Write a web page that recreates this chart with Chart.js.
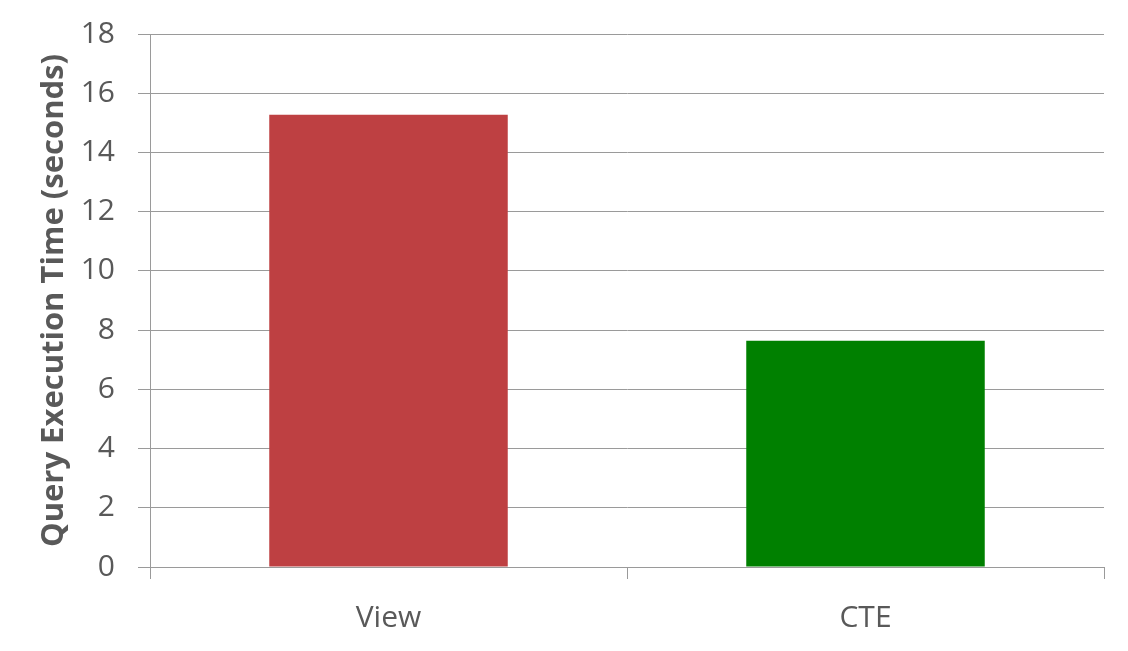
<!DOCTYPE html>
<html>
<head>
<meta charset="utf-8">
<title>Query Execution Time</title>
<script src="https://cdn.jsdelivr.net/npm/chart.js@4.4.0/dist/chart.umd.min.js"></script>
<style>
  html, body { margin: 0; padding: 0; background: #fff; }
  #wrap { width: 1128px; height: 651px; position: relative; }
</style>
</head>
<body>
<div id="wrap"><canvas id="myChart"></canvas></div>
<script>
// chart data
var categories = ['View', 'CTE'];
var execTimes = [15.27, 7.64];
var barColors = ['#BE4042', '#008000'];
var yTicks = [0, 2, 4, 6, 8, 10, 12, 14, 16, 18];

var textColor = '#595959';
var gridColor = '#9a9a9a';

displayBars = function () {
    var myChart = new Chart(document.getElementById('myChart').getContext('2d'), {
        type: 'bar',
        data: {
            labels: categories,
            datasets: [{
                data: execTimes,
                backgroundColor: barColors,
                borderWidth: 0,
                categoryPercentage: 1.0,
                barPercentage: 0.5
            }]
        },
        options: {
            responsive: true,
            maintainAspectRatio: false,
            animation: false,
            layout: { padding: { top: 34, right: 24, left: 0, bottom: 0 } },
            plugins: {
                legend: { display: false },
                tooltip: { enabled: false }
            },
            scales: {
                x: {
                    offset: true,
                    grid: {
                        offset: true,
                        drawOnChartArea: false,
                        drawTicks: true,
                        tickLength: 12,
                        color: gridColor
                    },
                    border: { display: false },
                    ticks: {
                        color: textColor,
                        padding: 21,
                        font: { family: 'Open Sans', size: 30 }
                    },
                    afterFit: function (scale) {
                        scale.height = 84;
                        scale.paddingLeft = 0;
                        scale.paddingRight = 0;
                    }
                },
                y: {
                    min: 0,
                    max: 18,
                    afterBuildTicks: function (scale) {
                        scale.ticks = yTicks.map(function (v) { return { value: v }; });
                    },
                    grid: {
                        color: gridColor,
                        tickLength: 12
                    },
                    border: { color: gridColor },
                    ticks: {
                        color: textColor,
                        padding: 23,
                        font: { family: 'Open Sans', size: 30 }
                    },
                    title: {
                        display: true,
                        text: 'Query Execution Time (seconds)',
                        color: textColor,
                        padding: { top: 36, bottom: 0 },
                        font: { family: 'Open Sans', size: 31, weight: 'bold' }
                    },
                    afterFit: function (scale) {
                        scale.width = 150;
                        scale.paddingTop = 0;
                        scale.paddingBottom = 0;
                    }
                }
            }
        }
    });
}

displayBars();
</script>
</body>
</html>
